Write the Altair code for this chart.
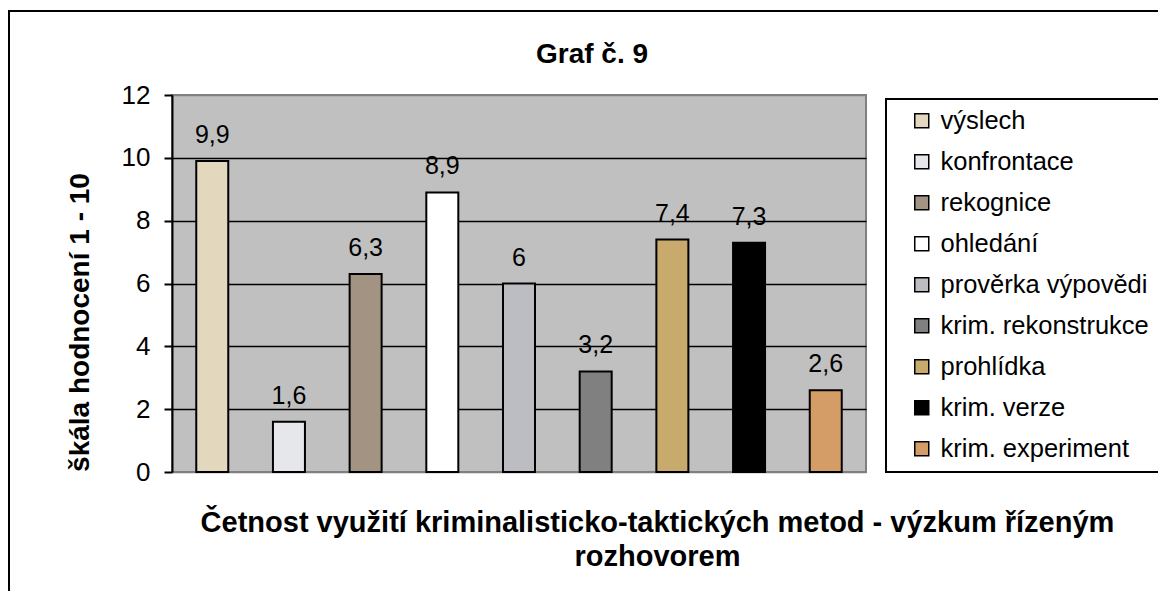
import altair as alt
import pandas as pd

categories = ["výslech", "konfrontace", "rekognice", "ohledání", "prověrka výpovědi",
              "krim. rekonstrukce", "prohlídka", "krim. verze", "krim. experiment"]
values = [9.9, 1.6, 6.3, 8.9, 6.0, 3.2, 7.4, 7.3, 2.6]
colors = ["#E3D8BE", "#E6E7EB", "#A29382", "#FFFFFF", "#BCBDC2",
          "#808080", "#C8AA6C", "#000000", "#D49C66"]
y_ticks = [0, 2, 4, 6, 8, 10, 12]
chart_title = "Graf č. 9"
x_title = ["Četnost využití kriminalisticko-taktických metod - výzkum řízeným", "rozhovorem"]
y_title = "škála hodnocení 1 - 10"

df = pd.DataFrame({"metoda": categories, "hodnota": values})
df["popisek"] = [("%g" % v).replace(".", ",") for v in values]

W, H = 694, 377
FONT = "Liberation Sans"

x_enc = alt.X("metoda:N", sort=categories,
              scale=alt.Scale(paddingInner=0.55, paddingOuter=0.3),
              axis=alt.Axis(labels=False, ticks=False, domain=False,
                            title=x_title,
                            titleFontSize=29, titleFontWeight="bold", titleFont=FONT,
                            titleColor="black", titleX=485, titleY=59,
                            titleAnchor="middle", titleAlign="center",
                            titleBaseline="alphabetic", titleLineHeight=34))
y_enc = alt.Y("hodnota:Q",
              scale=alt.Scale(domain=[0, 12], nice=False),
              axis=alt.Axis(values=y_ticks, title=y_title,
                            titleFontSize=28, titleFontWeight="bold", titleFont=FONT,
                            titleColor="black", titleAngle=270, titleX=-92, titleY=227,
                            titleAlign="center", titleBaseline="middle",
                            labelFontSize=26, labelFont=FONT, labelColor="black",
                            labelPadding=14, tickSize=8, tickWidth=2, tickColor="black",
                            domainColor="black", domainWidth=2,
                            gridColor={"condition": {"test": "datum.value == 0 || datum.value == 12",
                                                     "value": "#808080"},
                                       "value": "black"},
                            gridWidth=1.4))

bars = alt.Chart(df).mark_bar(size=32, stroke="black", strokeWidth=2).encode(
    x=x_enc, y=y_enc,
    color=alt.Color("metoda:N", sort=categories,
                    scale=alt.Scale(domain=categories, range=colors),
                    legend=alt.Legend(title=None, orient="none", legendX=737, legendY=13,
                                      symbolType="square", symbolSize=196,
                                      symbolStrokeColor="black", symbolStrokeWidth=1.5,
                                      symbolOpacity=1, labelFontSize=25.5, labelFont=FONT,
                                      labelColor="black", labelOffset=6, rowPadding=14,
                                      padding=0, labelLimit=400))
)

labels = alt.Chart(df).mark_text(baseline="alphabetic", dy=-18, fontSize=25, font=FONT,
                                 color="black").encode(
    x=alt.X("metoda:N", sort=categories), y="hodnota:Q", text="popisek:N")

one = pd.DataFrame({"k": [0]})
outer = alt.Chart(one).mark_rect(fill=None, stroke="black", strokeWidth=2).encode(
    x=alt.value(-163), x2=alt.value(2000), y=alt.value(-84), y2=alt.value(2000))
legend_box = alt.Chart(one).mark_rect(fill=None, stroke="black", strokeWidth=2).encode(
    x=alt.value(714), x2=alt.value(2000), y=alt.value(4), y2=alt.value(377))
title_mark = alt.Chart(one).mark_text(fontSize=28, fontWeight="bold", font=FONT,
                                      color="black", baseline="alphabetic",
                                      align="center").encode(
    x=alt.value(420), y=alt.value(-32), text=alt.value(chart_title))

chart = alt.layer(outer, legend_box, title_mark, bars, labels).properties(
    width=W, height=H,
    autosize=alt.AutoSizeParams(type="none"),
    padding={"left": 164, "top": 87, "right": 292, "bottom": 119},
).configure_view(fill="#C0C0C0", stroke="#808080", strokeWidth=2)

chart.save("out.html", embed_options={"renderer": "svg", "actions": False})
